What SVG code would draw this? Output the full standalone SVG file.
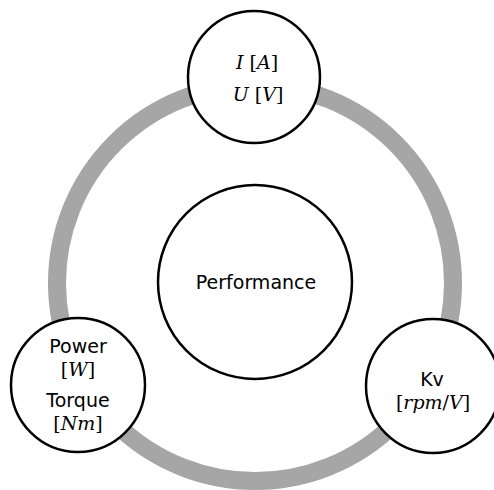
<svg xmlns="http://www.w3.org/2000/svg" width="494" height="490" viewBox="0 0 494 490">
<style>
.node{fill:#fff;stroke:#000;stroke-width:2.5}
.ring{fill:none;stroke:#a6a6a6;stroke-width:18}
.t{font-family:"DejaVu Sans",sans-serif;font-size:19px;fill:#000;text-anchor:middle}
.m{font-family:"DejaVu Serif",serif;font-size:19px;fill:#000;text-anchor:middle}
.i{font-style:italic}
</style>
<g id="connectors">
<circle class="ring" cx="255" cy="283" r="198"/>
</g>
<g id="performance">
<circle class="node" cx="255" cy="282" r="97"/>
<text class="t" x="256" y="289">Performance</text>
</g>
<g id="current-voltage">
<circle class="node" cx="254" cy="77" r="66"/>
<text class="m" x="257" y="69"><tspan class="i">I</tspan> [<tspan class="i">A</tspan>]</text>
<text class="m" x="258" y="101"><tspan class="i">U</tspan> [<tspan class="i">V</tspan>]</text>
</g>
<g id="power-torque">
<circle class="node" cx="78" cy="385" r="67"/>
<text class="t" x="78" y="353">Power</text>
<text class="m" x="78" y="376">[<tspan class="i">W</tspan>]</text>
<text class="t" x="78" y="407">Torque</text>
<text class="m" x="78" y="430">[<tspan class="i">Nm</tspan>]</text>
</g>
<g id="kv">
<circle class="node" cx="433" cy="386" r="67"/>
<text class="t" x="432" y="386">Kv</text>
<text class="m" x="433" y="409">[<tspan class="i">rpm</tspan>/<tspan class="i">V</tspan>]</text>
</g>
</svg>
